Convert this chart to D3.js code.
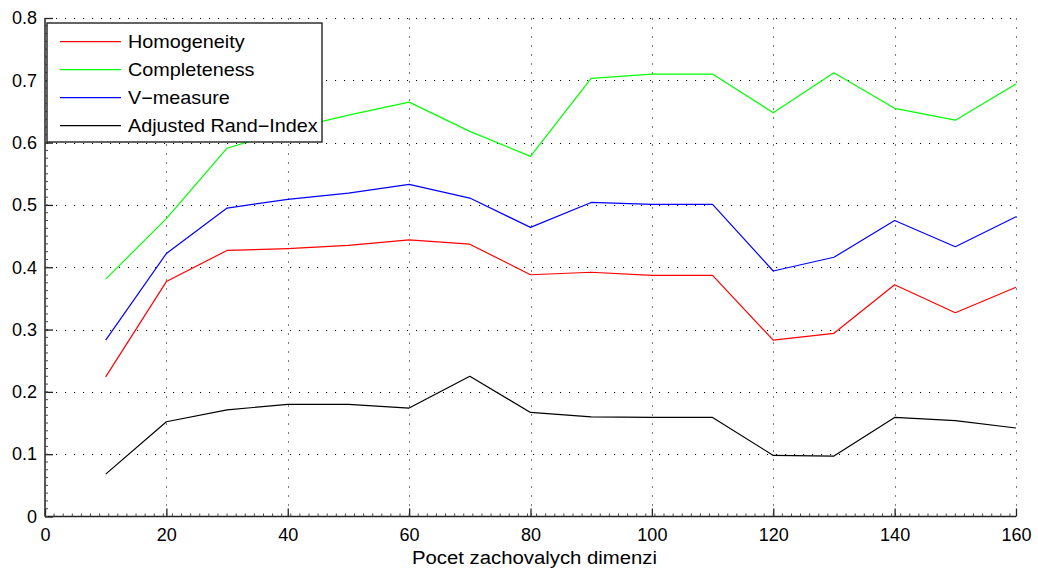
<!DOCTYPE html>
<html>
<head>
<meta charset="utf-8">
<script src="https://cdn.jsdelivr.net/npm/d3@7"></script>
<style>
  html, body { margin: 0; padding: 0; background: #fff; }
  svg { display: block; font-family: "Liberation Sans", Arial, Helvetica, sans-serif; }
</style>
</head>
<body>
<svg id="chart" width="1038" height="574"></svg>
<script>
// Number of retained dimensions
const dims = [10, 20, 30, 40, 50, 60, 70, 80, 90, 100, 110, 120, 130, 140, 150, 160];

// Clustering quality scores per dimension count
const homogeneity  = [0.224, 0.377, 0.427, 0.430, 0.435, 0.444, 0.437, 0.388, 0.392, 0.387, 0.387, 0.283, 0.294, 0.372, 0.327, 0.368];
const completeness = [0.381, 0.478, 0.591, 0.621, 0.644, 0.665, 0.618, 0.578, 0.703, 0.710, 0.710, 0.648, 0.712, 0.655, 0.636, 0.694];
const vMeasure     = [0.283, 0.422, 0.495, 0.509, 0.519, 0.533, 0.511, 0.464, 0.504, 0.501, 0.501, 0.394, 0.416, 0.475, 0.433, 0.481];
const adjRand      = [0.068, 0.152, 0.171, 0.180, 0.180, 0.174, 0.225, 0.167, 0.160, 0.159, 0.159, 0.098, 0.097, 0.159, 0.154, 0.142];

const seriesNames  = ["Homogeneity", "Completeness", "V\u2212measure", "Adjusted Rand\u2212Index"];
const seriesColors = ["#ff0000", "#00ff00", "#0000ff", "#000000"];
const seriesValues = [homogeneity, completeness, vMeasure, adjRand];

const xTicks = [0, 20, 40, 60, 80, 100, 120, 140, 160];
const yTicks = [0, 0.1, 0.2, 0.3, 0.4, 0.5, 0.6, 0.7, 0.8];
const xTitle = "Pocet zachovalych dimenzi";

const svg = d3.select("#chart");
const plot = { left: 45, right: 1016, top: 18, bottom: 516.5 };

const x = d3.scaleLinear().domain([0, 160]).range([plot.left, plot.right]);
const y = d3.scaleLinear().domain([0, 0.8]).range([plot.bottom, plot.top]);

// dotted grid
const grid = svg.append("g").attr("stroke", "#000").attr("stroke-width", 1.1)
  .attr("stroke-dasharray", "1.1,7.9").attr("fill", "none");
grid.selectAll("line.h").data(yTicks.filter(d => d > 0)).join("line")
  .attr("x1", plot.left + 2).attr("x2", plot.right)
  .attr("y1", d => Math.round(y(d)) + 0.5).attr("y2", d => Math.round(y(d)) + 0.5);
grid.selectAll("line.v").data(xTicks.filter(d => d > 0)).join("line")
  .attr("x1", d => Math.round(x(d)) + 0.5).attr("x2", d => Math.round(x(d)) + 0.5)
  .attr("y1", plot.bottom - 2).attr("y2", plot.top);

// axes (ticks point inward)
const fontSize = 18;
const xAxis = d3.axisBottom(x).tickValues(xTicks).tickSize(-8).tickPadding(12).tickFormat(d3.format("d"));
const yAxis = d3.axisLeft(y).tickValues(yTicks).tickSize(-8).tickPadding(8).tickFormat(d => d === 0 ? "0" : d3.format(".1f")(d));

const gx = svg.append("g").attr("transform", `translate(0,${plot.bottom})`).call(xAxis);
const gy = svg.append("g").attr("transform", `translate(${plot.left},0)`).call(yAxis);
[gx, gy].forEach(g => {
  g.select(".domain").attr("stroke", "#222").attr("stroke-width", 1.5);
  g.selectAll(".tick line").attr("stroke", "#222").attr("stroke-width", 1.3);
  g.selectAll(".tick text").attr("fill", "#000").attr("font-size", fontSize)
    .attr("font-family", "Liberation Sans, Arial, sans-serif");
});
gx.select(".domain").attr("d", `M${plot.left},0H${plot.right}`);
gy.select(".domain").attr("d", `M0,${plot.bottom}V${plot.top}`);

// minor ticks
const minor = svg.append("g").attr("stroke", "#444").attr("stroke-width", 1);
minor.selectAll("line.mx").data(d3.range(0, 160, 1.5)).join("line")
  .attr("x1", d => x(d)).attr("x2", d => x(d))
  .attr("y1", plot.bottom).attr("y2", plot.bottom - 3);
minor.selectAll("line.my").data(d3.range(0, 0.8, 0.0125)).join("line")
  .attr("x1", plot.left).attr("x2", plot.left + 3)
  .attr("y1", d => y(d)).attr("y2", d => y(d));

// x axis title (slightly widened lettering)
svg.append("text")
  .attr("transform", `translate(${(plot.left + plot.right) / 2 + 4},564) scale(1.13,1)`)
  .attr("text-anchor", "middle").attr("font-size", fontSize).attr("fill", "#000")
  .text(xTitle);

// series lines
const line = d3.line().x((d, i) => x(dims[i])).y(d => y(d));
svg.append("g").selectAll("path").data(seriesValues).join("path")
  .attr("d", line).attr("fill", "none")
  .attr("stroke", (d, i) => seriesColors[i]).attr("stroke-width", 1.2)
  .attr("stroke-linejoin", "round");

// legend
const legend = svg.append("g").attr("transform", "translate(47,23)");
legend.append("rect").attr("x", 0).attr("y", 0).attr("width", 275).attr("height", 119)
  .attr("fill", "#fff").attr("stroke", "#222").attr("stroke-width", 1.4);
const items = legend.selectAll("g.item").data(seriesNames).join("g")
  .attr("transform", (d, i) => `translate(0,${18.7 + i * 28})`);
items.append("line").attr("x1", 13).attr("x2", 74).attr("y1", 0).attr("y2", 0)
  .attr("stroke", (d, i) => seriesColors[i]).attr("stroke-width", 1.2);
items.append("text").attr("transform", "translate(81,0) scale(1.1,1)").attr("dy", "0.35em")
  .attr("font-size", fontSize).attr("fill", "#000").text(d => d);
</script>
</body>
</html>
